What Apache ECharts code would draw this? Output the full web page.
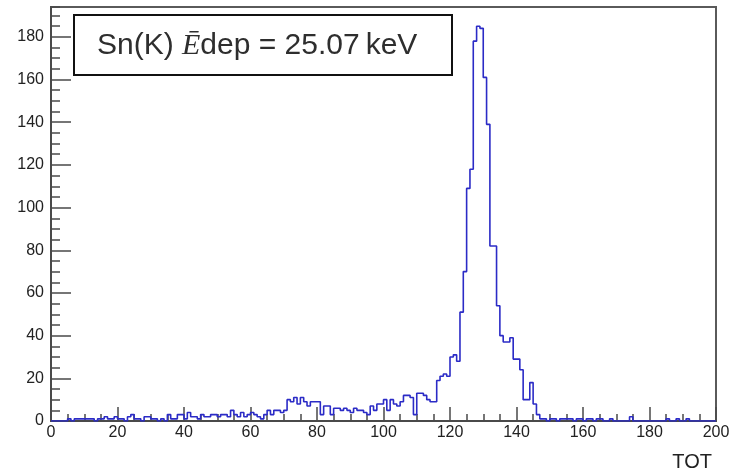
<!DOCTYPE html>
<html>
<head>
<meta charset="utf-8">
<script src="https://cdn.jsdelivr.net/npm/echarts@6/dist/echarts.min.js"></script>
<style>
  html, body { margin: 0; padding: 0; background: #fff; }
  #chart { width: 737px; height: 474px; }
</style>
</head>
<body>
<div id="chart"></div>
<script>
// TOT spectrum: 200 bins of width 1, starting at 0
const binLow = 0;
const binWidth = 1;
const counts = [
  0, 0, 0, 0, 0,   1, 0, 1, 1, 1,
  1, 1, 1, 0, 1,   1, 2, 1, 1, 2,
  1, 1, 0, 2, 3,   1, 1, 0, 2, 2,
  1, 1, 0, 1, 0,   3, 1, 1, 3, 3,
  1, 4, 2, 2, 1,   3, 2, 2, 3, 3,
  2, 3, 3, 2, 5,   3, 2, 4, 2, 3,
  4, 3, 2, 1, 3,   5, 3, 5, 5, 4,
  5, 10, 9, 11, 8, 11, 9, 7, 9, 9,
  9, 3, 7, 7, 3,   6, 6, 5, 6, 5,
  4, 6, 5, 5, 4,   3, 7, 5, 8, 8,
  10, 5, 10, 8, 7, 9, 12, 12, 11, 3,
  13, 13, 12, 10, 9, 9, 19, 21, 22, 21,
  30, 31, 28, 51, 70, 109, 118, 178, 185, 184,
  161, 139, 82, 82, 54, 40, 37, 37, 39, 29,
  29, 24, 10, 10, 18, 8, 3, 1, 1, 0,
  1, 1, 0, 1, 1,   1, 1, 0, 1, 1,
  0, 1, 1, 0, 1,   1, 0, 0, 1, 0,
  0, 0, 0, 0, 2,   0, 0, 0, 0, 0,
  0, 0, 0, 0, 0,   1, 0, 0, 1, 0,
  0, 1, 0, 0, 0,   0, 0, 0, 0, 0
];
const xTicks = [0, 20, 40, 60, 80, 100, 120, 140, 160, 180, 200];
const yTicks = [0, 20, 40, 60, 80, 100, 120, 140, 160, 180];
const xMax = 200;
const yMax = 194;
const xTitle = 'TOT';
const boxLabel = ['Sn(K) ', '\u0112', 'dep = 25.07\u2009keV'];

// histogram outline: one point per bin low edge, plus the closing edge
const points = counts.map((c, i) => [binLow + i * binWidth, c]);
points.push([binLow + counts.length * binWidth, counts[counts.length - 1]]);

const axisColor = '#4a4a4a';
const textColor = '#222';
const font = "'Liberation Sans', Arial, Helvetica, sans-serif";

const chart = echarts.init(document.getElementById('chart'), null, { renderer: 'canvas' });
chart.setOption({
  animation: false,
  backgroundColor: '#fff',
  grid: {
    left: 51, right: 21, top: 7, bottom: 53,
    containLabel: false,
    outerBoundsMode: 'none',
    show: true,
    borderColor: '#5a5a5a',
    borderWidth: 2,
    backgroundColor: 'transparent'
  },
  xAxis: {
    type: 'value',
    min: xTicks[0],
    max: xMax,
    interval: 20,
    name: xTitle,
    nameLocation: 'end',
    nameGap: 0,
    nameTextStyle: {
      color: textColor, fontFamily: font, fontSize: 20,
      align: 'right', verticalAlign: 'top', padding: [31, 4, 0, 0]
    },
    axisLine: { show: true, onZero: false, lineStyle: { color: axisColor, width: 2 } },
    axisTick: { show: true, inside: true, length: 14, lineStyle: { color: axisColor, width: 1.5 } },
    minorTick: { show: true, splitNumber: 4, length: 7, lineStyle: { color: axisColor, width: 1.5 } },
    axisLabel: {
      show: true, margin: 4, color: textColor, fontFamily: font, fontSize: 16,
      customValues: xTicks, showMinLabel: true, showMaxLabel: true
    },
    splitLine: { show: false },
    minorSplitLine: { show: false }
  },
  yAxis: [
    {
      // fine ticks every 5 counts
      type: 'value',
      min: 0,
      max: yMax,
      interval: 5,
      axisLine: { show: true, onZero: false, lineStyle: { color: axisColor, width: 2 } },
      axisTick: { show: true, inside: true, length: 9, lineStyle: { color: axisColor, width: 1.5 } },
      axisLabel: { show: false },
      splitLine: { show: false }
    },
    {
      // labelled ticks every 20 counts
      type: 'value',
      min: 0,
      max: yMax,
      position: 'left',
      axisLine: { show: false },
      axisTick: {
        show: true, inside: true, length: 20, customValues: yTicks,
        lineStyle: { color: axisColor, width: 1.5 }
      },
      axisLabel: {
        show: true, margin: 7, color: textColor, fontFamily: font, fontSize: 16,
        customValues: yTicks
      },
      splitLine: { show: false }
    }
  ],
  series: [{
    type: 'line',
    xAxisIndex: 0,
    yAxisIndex: 0,
    data: points,
    step: 'end',
    symbol: 'none',
    silent: true,
    lineStyle: { color: '#2b2bc6', width: 1.6 },
    z: 3
  }],
  graphic: [{
    type: 'group',
    left: 73,
    top: 14,
    z: 10,
    children: [
      {
        type: 'rect',
        shape: { x: 0, y: 0, width: 378, height: 60 },
        style: { fill: '#fff', stroke: '#111', lineWidth: 2 }
      },
      {
        type: 'text',
        x: 23,
        y: 31,
        style: {
          text: '{a|' + boxLabel[0] + '}{e|' + boxLabel[1] + '}{a|' + boxLabel[2] + '}',
          verticalAlign: 'middle',
          align: 'left',
          rich: {
            a: { fontSize: 30, fontFamily: font, fill: '#2e2e2e' },
            e: { fontSize: 30, fontFamily: "'Liberation Serif', 'DejaVu Serif', serif", fontStyle: 'italic', fill: '#2e2e2e' }
          }
        }
      }
    ]
  }]
});
</script>
</body>
</html>
